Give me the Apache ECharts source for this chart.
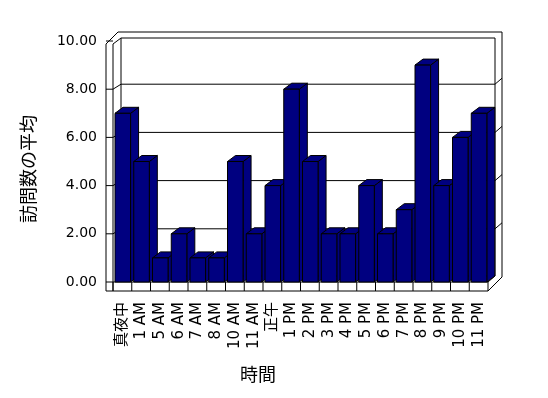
<!DOCTYPE html>
<html>
<head>
<meta charset="utf-8">
<script src="https://cdn.jsdelivr.net/npm/echarts@6/dist/echarts.min.js"></script>
<style>
  html, body { margin: 0; padding: 0; background: #fff; }
  #main { width: 548px; height: 398px; }
</style>
</head>
<body>
<div id="main"></div>
<script>
// 時間ごとの訪問数
var hours = ['真夜中', '1 AM', '5 AM', '6 AM', '7 AM', '8 AM', '10 AM', '11 AM', '正午', '1 PM',
  '2 PM', '3 PM', '4 PM', '5 PM', '6 PM', '7 PM', '8 PM', '9 PM', '10 PM', '11 PM'];
var visits = [7, 5, 1, 2, 1, 1, 5, 2, 4, 8, 5, 2, 2, 4, 2, 3, 9, 4, 6, 7];
var yTicks = [0, 2, 4, 6, 8, 10];

var FONT = '"DejaVu Sans", "Noto Sans CJK JP", sans-serif';
var DX = 8, DY = 6;   // 奥行き

var chart = echarts.init(document.getElementById('main'), null, { renderer: 'canvas' });

// 壁と床
function renderFrame(params, api) {
  var bw = api.size([1, 0])[0];
  var n = hours.length;
  var p0 = api.coord([0, 0]);
  var p1 = api.coord([n - 1, 0]);
  var L = p0[0] - bw / 2, R = p1[0] + bw / 2;
  var B = p0[1], T = api.coord([0, yTicks[yTicks.length - 1]])[1];
  var line = { stroke: '#000', lineWidth: 1, fill: null };
  var els = [];

  // 外枠
  els.push({
    type: 'polygon',
    shape: { points: [[L - 7, B + 9], [L - 7, T + 3], [L + 5, T - 9], [R + 14, T - 9], [R + 14, B - 5], [R, B + 9]] },
    style: { fill: '#fff', stroke: '#000', lineWidth: 1 }
  });
  // 奥の壁
  els.push({ type: 'rect', shape: { x: L + DX, y: T - 3, width: R + 7 - L - DX, height: B - 6 - T + 3 }, style: line });
  // 左の壁の前面
  els.push({ type: 'line', shape: { x1: L, y1: T + 3, x2: L, y2: B + 9 }, style: line });
  els.push({ type: 'line', shape: { x1: L, y1: T + 3, x2: L + DX, y2: T - 3 }, style: line });
  // 目盛線
  yTicks.forEach(function (v) {
    var y = api.coord([0, v])[1];
    if (v === 0) {
      els.push({ type: 'line', shape: { x1: L - 7, y1: B, x2: R, y2: B }, style: line });
      return;
    }
    els.push({ type: 'line', shape: { x1: L - 7, y1: y, x2: L, y2: y }, style: line });
    if (v === yTicks[yTicks.length - 1]) return;
    els.push({ type: 'line', shape: { x1: L, y1: y, x2: L + DX, y2: y - 5 }, style: line });
    els.push({ type: 'line', shape: { x1: L + DX, y1: y - 5, x2: R + 7, y2: y - 5 }, style: line });
    els.push({ type: 'line', shape: { x1: R + 7, y1: y - 5, x2: R + 14, y2: y - 11 }, style: line });
  });
  // 床の前面の区切り
  for (var i = 0; i <= n; i++) {
    var x = L + i * bw;
    els.push({ type: 'line', shape: { x1: x, y1: B, x2: x, y2: B + 9 }, style: line });
  }
  els.push({ type: 'line', shape: { x1: R, y1: B, x2: R + 7, y2: B - 6 }, style: line });
  return { type: 'group', children: els };
}

// 立体の棒
function renderBar(params, api) {
  var i = api.value(0), v = api.value(1);
  var bw = api.size([1, 0])[0];
  var base = api.coord([i, 0]);
  var top = api.coord([i, v]);
  var x0 = base[0] - bw / 2 + 2;
  var x1 = x0 + bw * 0.83;
  var y0 = base[1], y1 = top[1];
  var st = { fill: '#000080', stroke: '#000', lineWidth: 1 };
  return {
    type: 'group',
    children: [
      { type: 'polygon', shape: { points: [[x1, y1], [x1 + DX, y1 - DY], [x1 + DX, y0 - DY], [x1, y0]] }, style: st },
      { type: 'polygon', shape: { points: [[x0, y1], [x0 + DX, y1 - DY], [x1 + DX, y1 - DY], [x1, y1]] }, style: st },
      { type: 'rect', shape: { x: x0, y: y1, width: x1 - x0, height: y0 - y1 }, style: st }
    ]
  };
}

chart.setOption({
  animation: false,
  grid: { left: 113, right: 60, top: 41, bottom: 116 },
  xAxis: {
    type: 'category',
    data: hours,
    axisLine: { show: false },
    axisTick: { show: false },
    axisLabel: { interval: 0, rotate: 90, margin: 20, fontSize: 15, color: '#000', fontFamily: FONT }
  },
  yAxis: {
    type: 'value',
    min: 0,
    max: 10,
    interval: 2,
    axisLine: { show: false },
    axisTick: { show: false },
    splitLine: { show: false },
    axisLabel: {
      margin: 16, fontSize: 14, color: '#000', fontFamily: FONT,
      formatter: function (v) { return v.toFixed(2); }
    }
  },
  graphic: [
    { type: 'text', x: 258, y: 376, style: { text: '時間', fontSize: 18, fontFamily: FONT, fill: '#000', align: 'center', verticalAlign: 'middle' } },
    { type: 'text', x: 30, y: 169, rotation: Math.PI / 2, style: { text: '訪問数の平均', fontSize: 18, fontFamily: FONT, fill: '#000', align: 'center', verticalAlign: 'middle' } }
  ],
  series: [
    { type: 'custom', name: 'frame', silent: true, z: 1, data: [[0, 0]], renderItem: renderFrame },
    {
      type: 'custom', name: '訪問数の平均', z: 2,
      data: visits.map(function (v, i) { return [i, v]; }),
      encode: { x: 0, y: 1 },
      renderItem: renderBar
    }
  ]
});
</script>
</body>
</html>
